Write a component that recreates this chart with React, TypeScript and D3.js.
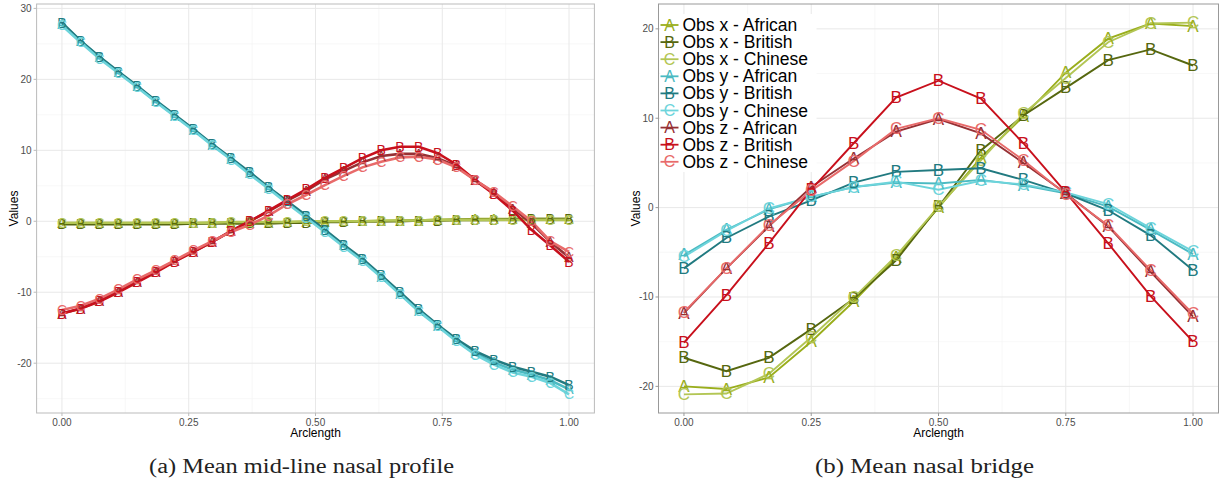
import React from 'react';
import * as d3 from 'd3';

// series order: Obs x/y/z for African, British, Chinese
const seriesNames = [
  'Obs x - African', 'Obs x - British', 'Obs x - Chinese',
  'Obs y - African', 'Obs y - British', 'Obs y - Chinese',
  'Obs z - African', 'Obs z - British', 'Obs z - Chinese',
];
const seriesShapes = ['A', 'B', 'C', 'A', 'B', 'C', 'A', 'B', 'C'];
const seriesColors = [
  '#9aae1c', '#56670f', '#b3c655',
  '#4bbac2', '#217a80', '#6dd4db',
  '#963034', '#c8101c', '#e86a6a',
];

const xTicks = [0, 0.25, 0.5, 0.75, 1];

// (a) mid-line nasal profile, 28 points along arclength
const profileXAfrican = [-0.3, -0.3, -0.3, -0.3, -0.3, -0.3, -0.3, -0.3, -0.2, -0.2, -0.2, -0.2, -0.1, -0.1, -0.1, 0, 0, 0, 0.1, 0.1, 0.2, 0.2, 0.3, 0.3, 0.3, 0.3, 0.3, 0.3];
const profileXBritish = [-0.4, -0.4, -0.4, -0.4, -0.4, -0.4, -0.4, -0.3, -0.3, -0.3, -0.3, -0.3, -0.2, -0.2, -0.1, -0.1, 0, 0, 0, 0.1, 0.1, 0.2, 0.2, 0.2, 0.3, 0.3, 0.3, 0.3];
const profileXChinese = [-0.2, -0.2, -0.2, -0.2, -0.2, -0.2, -0.2, -0.2, -0.2, -0.1, -0.1, -0.1, -0.1, 0, 0, 0, 0, 0.1, 0.1, 0.1, 0.2, 0.2, 0.2, 0.2, 0.2, 0.2, 0.2, 0.2];
const profileYAfrican = [27.8, 25.4, 23.1, 21.0, 19.0, 16.9, 14.9, 12.9, 10.8, 8.8, 6.8, 4.7, 2.7, 0.7, -1.3, -3.4, -5.5, -7.8, -10.2, -12.6, -14.7, -16.8, -18.6, -19.9, -20.9, -21.6, -22.4, -23.7];
const profileYBritish = [28.0, 25.4, 23.2, 21.1, 19.1, 17.0, 15.0, 13.0, 10.9, 8.9, 6.9, 4.8, 2.8, 0.8, -1.2, -3.3, -5.3, -7.6, -10.0, -12.4, -14.6, -16.6, -18.3, -19.5, -20.5, -21.2, -21.9, -23.1];
const profileYChinese = [27.6, 25.2, 22.9, 20.9, 18.9, 16.8, 14.8, 12.8, 10.7, 8.7, 6.6, 4.6, 2.5, 0.5, -1.5, -3.6, -5.6, -7.9, -10.3, -12.7, -14.8, -16.9, -18.8, -20.2, -21.3, -21.9, -22.8, -24.4];
const profileZAfrican = [-13.0, -12.3, -11.2, -9.9, -8.5, -7.1, -5.6, -4.3, -2.9, -1.4, 0.0, 1.4, 2.9, 4.3, 5.9, 7.1, 8.3, 9.2, 9.5, 9.5, 8.9, 7.8, 5.8, 4.0, 1.8, -0.3, -2.9, -5.1];
const profileZBritish = [-13.0, -12.3, -11.3, -10.0, -8.6, -7.2, -5.7, -4.3, -2.9, -1.4, 0.0, 1.5, 3.0, 4.5, 6.1, 7.5, 8.9, 10.0, 10.5, 10.5, 9.6, 8.0, 5.8, 3.8, 1.5, -1.2, -3.4, -5.7];
const profileZChinese = [-12.5, -11.9, -10.9, -9.6, -8.2, -6.9, -5.5, -4.1, -2.8, -1.5, -0.5, 0.8, 2.4, 3.7, 5.1, 6.4, 7.6, 8.4, 9.0, 9.1, 8.7, 7.6, 5.8, 4.1, 2.1, 0.0, -2.8, -4.3];
const profileYTicks = [-20, -10, 0, 10, 20, 30];

// (b) nasal bridge, 13 points along arclength
const bridgeXAfrican = [-20.0, -20.3, -19.0, -15.0, -10.5, -5.6, 0.0, 5.6, 10.2, 15.1, 18.9, 20.6, 20.3];
const bridgeXBritish = [-16.8, -18.3, -16.8, -13.6, -10.2, -5.9, 0.1, 6.4, 10.3, 13.4, 16.5, 17.7, 15.9];
const bridgeXChinese = [-20.9, -20.8, -18.6, -14.5, -10.1, -5.4, 0.1, 5.3, 10.5, 14.5, 18.5, 20.6, 20.7];
const bridgeYAfrican = [-5.3, -2.5, -0.2, 1.2, 2.3, 2.8, 2.7, 3.1, 2.5, 1.6, 0.1, -2.5, -5.2];
const bridgeYBritish = [-6.8, -3.4, -1.0, 0.8, 2.8, 4.0, 4.2, 4.4, 3.1, 1.6, -0.3, -3.1, -7.0];
const bridgeYChinese = [-5.5, -2.6, -0.1, 1.2, 2.3, 2.9, 2.0, 3.0, 2.6, 1.7, 0.4, -2.3, -4.9];
const bridgeZAfrican = [-11.8, -6.8, -2.1, 2.3, 5.5, 8.5, 9.9, 8.3, 5.0, 1.6, -2.1, -7.2, -12.2];
const bridgeZBritish = [-15.1, -9.8, -4.0, 2.0, 7.2, 12.3, 14.2, 12.2, 7.2, 1.7, -4.0, -9.9, -15.0];
const bridgeZChinese = [-11.7, -6.8, -2.0, 1.9, 5.2, 8.8, 10.0, 8.7, 5.3, 1.5, -2.0, -7.0, -11.9];
const bridgeYTicks = [-20, -10, 0, 10, 20];

const profileSeries = [
  profileXAfrican, profileXBritish, profileXChinese,
  profileYAfrican, profileYBritish, profileYChinese,
  profileZAfrican, profileZBritish, profileZChinese,
];
const bridgeSeries = [
  bridgeXAfrican, bridgeXBritish, bridgeXChinese,
  bridgeYAfrican, bridgeYBritish, bridgeYChinese,
  bridgeZAfrican, bridgeZBritish, bridgeZChinese,
];

const sans = '"Liberation Sans", Arial, sans-serif';
const serif = '"Liberation Serif", "DejaVu Serif", serif';

type PanelProps = {
  series: number[][];
  yTicks: number[];
  left: number;
  right: number;
  top: number;
  bottom: number;
  pointSize: number;
  lineWidth: number;
  border: string;
  caption: string;
  captionWidth: number;
  legend?: boolean;
};

const Panel = ({ series, yTicks, left, right, top, bottom, pointSize, lineWidth, border, caption, captionWidth, legend }: PanelProps) => {
  const all = series.flat();
  const [lo, hi] = d3.extent(all) as [number, number];
  const pad = (hi - lo) * 0.05;
  const x = d3.scaleLinear().domain([-0.05, 1.05]).range([left, right]);
  const y = d3.scaleLinear().domain([lo - pad, hi + pad]).range([bottom, top]);

  const xMinor = xTicks.slice(1).map((t, i) => (t + xTicks[i]) / 2);
  const yMinor = yTicks.slice(1).map((t, i) => (t + yTicks[i]) / 2);
  const step = yTicks[1] - yTicks[0];
  yMinor.unshift(yTicks[0] - step / 2);
  yMinor.push(yTicks[yTicks.length - 1] + step / 2);
  const yMinorIn = yMinor.filter((v) => y(v) <= bottom && y(v) >= top);

  const line = d3.line<number>()
    .x((_, i) => x(i / (series[0].length - 1)))
    .y((d) => y(d));

  const cx = (left + right) / 2;
  const cy = (top + bottom) / 2;

  return (
    <g>
      <rect x={left} y={top} width={right - left} height={bottom - top} fill="#fff" />
      {xMinor.map((t) => (
        <line key={'xm' + t} x1={x(t)} x2={x(t)} y1={top} y2={bottom} stroke="#f4f4f4" strokeWidth={0.6} />
      ))}
      {yMinorIn.map((t) => (
        <line key={'ym' + t} x1={left} x2={right} y1={y(t)} y2={y(t)} stroke="#f4f4f4" strokeWidth={0.6} />
      ))}
      {xTicks.map((t) => (
        <line key={'xg' + t} x1={x(t)} x2={x(t)} y1={top} y2={bottom} stroke="#e8e8e8" strokeWidth={1} />
      ))}
      {yTicks.map((t) => (
        <line key={'yg' + t} x1={left} x2={right} y1={y(t)} y2={y(t)} stroke="#e8e8e8" strokeWidth={1} />
      ))}

      {series.map((s, k) => (
        <path key={'l' + k} d={line(s) || ''} fill="none" stroke={seriesColors[k]} strokeWidth={lineWidth} />
      ))}
      {series.map((s, k) =>
        s.map((v, i) => (
          <text
            key={'p' + k + '-' + i}
            x={x(i / (s.length - 1))}
            y={y(v)}
            fill={seriesColors[k]}
            fontFamily={sans}
            fontSize={pointSize}
            textAnchor="middle"
            dominantBaseline="central"
          >
            {seriesShapes[k]}
          </text>
        ))
      )}

      <rect x={left} y={top} width={right - left} height={bottom - top} fill="none" stroke={border} strokeWidth={1} />

      {xTicks.map((t) => (
        <g key={'xt' + t}>
          <line x1={x(t)} x2={x(t)} y1={bottom} y2={bottom + 3} stroke={border} />
          <text x={x(t)} y={bottom + 13} textAnchor="middle" fontFamily={sans} fontSize={10} fill="#4d4d4d">
            {d3.format('.2f')(t)}
          </text>
        </g>
      ))}
      {yTicks.map((t) => (
        <g key={'yt' + t}>
          <line x1={left - 3} x2={left} y1={y(t)} y2={y(t)} stroke={border} />
          <text x={left - 5} y={y(t)} textAnchor="end" dominantBaseline="central" fontFamily={sans} fontSize={10} fill="#4d4d4d">
            {t}
          </text>
        </g>
      ))}
      <text x={cx} y={bottom + 24} textAnchor="middle" fontFamily={sans} fontSize={12} fill="#000">
        Arclength
      </text>
      <text
        transform={`translate(${left - 23},${cy}) rotate(-90)`}
        textAnchor="middle"
        dominantBaseline="central"
        fontFamily={sans}
        fontSize={12}
        fill="#000"
      >
        Values
      </text>
      <text
        x={cx - 14}
        y={473}
        textAnchor="middle"
        fontFamily={serif}
        fontSize={20}
        fill="#222"
        textLength={captionWidth}
        lengthAdjust="spacingAndGlyphs"
      >
        {caption}
      </text>

      {legend && (
        <g>
          <rect x={left + 2} y={top + 10} width={156} height={158} fill="#fff" />
          {seriesNames.map((name, k) => {
            const ry = top + 21 + k * 17.1;
            return (
              <g key={'lg' + k}>
                <line x1={left + 2} x2={left + 20} y1={ry} y2={ry} stroke={seriesColors[k]} strokeWidth={1.8} />
                <text x={left + 11} y={ry} textAnchor="middle" dominantBaseline="central" fontFamily={sans} fontSize={16} fill={seriesColors[k]}>
                  {seriesShapes[k]}
                </text>
                <text x={left + 24} y={ry} dominantBaseline="central" fontFamily={sans} fontSize={17.5} fill="#000">
                  {name}
                </text>
              </g>
            );
          })}
        </g>
      )}
    </g>
  );
};

export default function App() {
  return (
    <svg
      width={1226}
      height={483}
      style={{ position: 'absolute', left: 0, top: 0, background: '#fff' }}
    >
      <rect width={1226} height={483} fill="#fff" />
      <Panel
        series={profileSeries}
        yTicks={profileYTicks}
        left={36.6}
        right={594.4}
        top={4}
        bottom={413}
        pointSize={14}
        lineWidth={2.6}
        border="#bbbbbb"
        caption="(a) Mean mid-line nasal profile"
        captionWidth={305}
      />
      <Panel
        series={bridgeSeries}
        yTicks={bridgeYTicks}
        left={658.5}
        right={1218.5}
        top={4}
        bottom={413}
        pointSize={17}
        lineWidth={1.9}
        border="#999999"
        caption="(b) Mean nasal bridge"
        captionWidth={219}
        legend
      />
    </svg>
  );
}
